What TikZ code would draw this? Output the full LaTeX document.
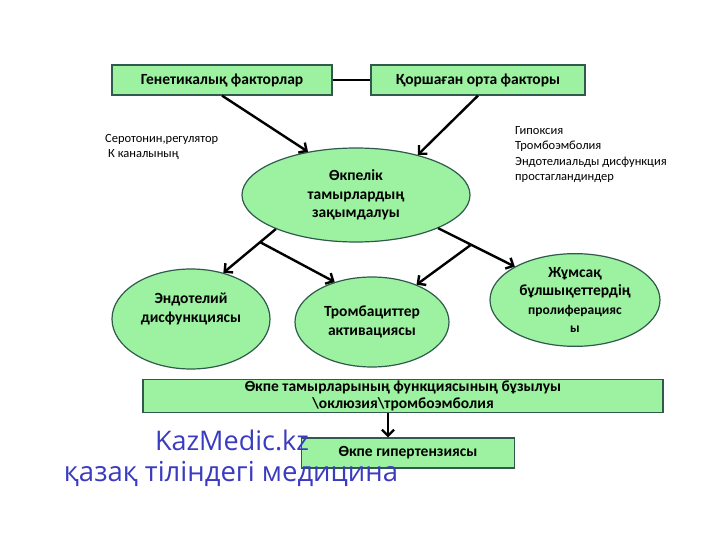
\documentclass[tikz,border=0pt]{standalone}
\usepackage{fontspec}
\setmainfont{Carlito}
\newfontfamily\wmfont{Open Sans}
\usepackage{xcolor}
\definecolor{kzgreen}{HTML}{9CF2A0}
\definecolor{kzline}{HTML}{2F5A4C}
\definecolor{kzblue}{HTML}{3B3BC2}
\usetikzlibrary{arrows.meta,positioning,shapes.geometric,calc}

\begin{document}
\begin{tikzpicture}[x=1pt,y=-1pt,>={Straight Barb[length=6pt,width=12pt]}]
\tikzset{
 n/.style={draw=kzline,line width=1.2pt,fill=kzgreen,align=center,font=\bfseries\fontsize{15.5}{18.5}\selectfont,inner sep=0pt},
 e/.style={n,ellipse},
 t/.style={align=left,font=\fontsize{12.5}{15.5}\selectfont,inner sep=0pt},
 a/.style={->,line width=2.4pt}
}
\useasboundingbox[fill=white] (0,0) rectangle (720,540);
% top factors
\node[n,minimum width=220pt,minimum height=30pt] (g) at (222,80) {Генетикалық факторлар};
\node[n,minimum width=214pt,minimum height=30pt] (q) at (478,80) {Қоршаған орта факторы};
% central damage
\node[e,minimum width=228pt,minimum height=94pt] (m) at (356,195) {Өкпелік\\тамырлардың\\зақымдалуы};
% side notes
\node[t,anchor=north west] (l1) at (105,134) {Серотонин,регулятор\\\hspace*{3pt}К каналының};
\node[t,anchor=north west] (r1) at (515,126) {Гипоксия\\Тромбоэмболия\\Эндотелиальды дисфункция\\простагландиндер};
% consequences
\node[e,minimum width=158pt,minimum height=100pt] (e1) at (191,319) {Эндотелий\\дисфункциясы\\[4pt]};
\node[e,minimum width=154pt,minimum height=90pt] (e2) at (372,322) {Тромбациттер\\активациясы};
\node[e,minimum width=170pt,minimum height=90pt] (e3) at (575,300) {Жұмсақ\\бұлшықеттердің\\{\fontsize{13.5}{17}\selectfont пролиферацияс}\\{\fontsize{13.5}{13}\selectfont ы}};
% bottom
\node[n,minimum width=520pt,minimum height=33pt,font=\bfseries\fontsize{15.5}{17}\selectfont] (b) at (403,396) {Өкпе тамырларының функциясының бұзылуы\\ \textbackslash оклюзия\textbackslash тромбоэмболия};
\node[n,minimum width=213pt,minimum height=30pt,font=\bfseries\fontsize{15.5}{17}\selectfont] (h) at (408,453) {Өкпе гипертензиясы};
% watermark
\node[font=\wmfont\fontsize{27}{30}\selectfont,text=kzblue,inner sep=0pt] (w1) at (232,440) {KazMedic.kz};
\node[font=\wmfont\fontsize{27.5}{30}\selectfont,text=kzblue,inner sep=0pt] (w2) at (231,474) {қазақ тіліндегі медицина};
% connectors
\draw[line width=1.5pt] (g) -- (q);
\draw[a] (g.south) -- (m.138);
\draw[a] (q.south) -- (m.33);
\path (m.203) -- (e1.55) coordinate[pos=0.3] (k1);
\path (m.-22) -- (e3.151) coordinate[pos=0.43] (k2);
\draw[a] (m.203) -- (e1.55);
\draw[a] (k1) -- (e2.133);
\draw[a] (m.-22) -- (e3.151);
\draw[a] (k2) -- (e2.40);
\draw[a] ([xshift=-15pt]b.south) -- ([xshift=-20pt]h.north);
\end{tikzpicture}
\end{document}
